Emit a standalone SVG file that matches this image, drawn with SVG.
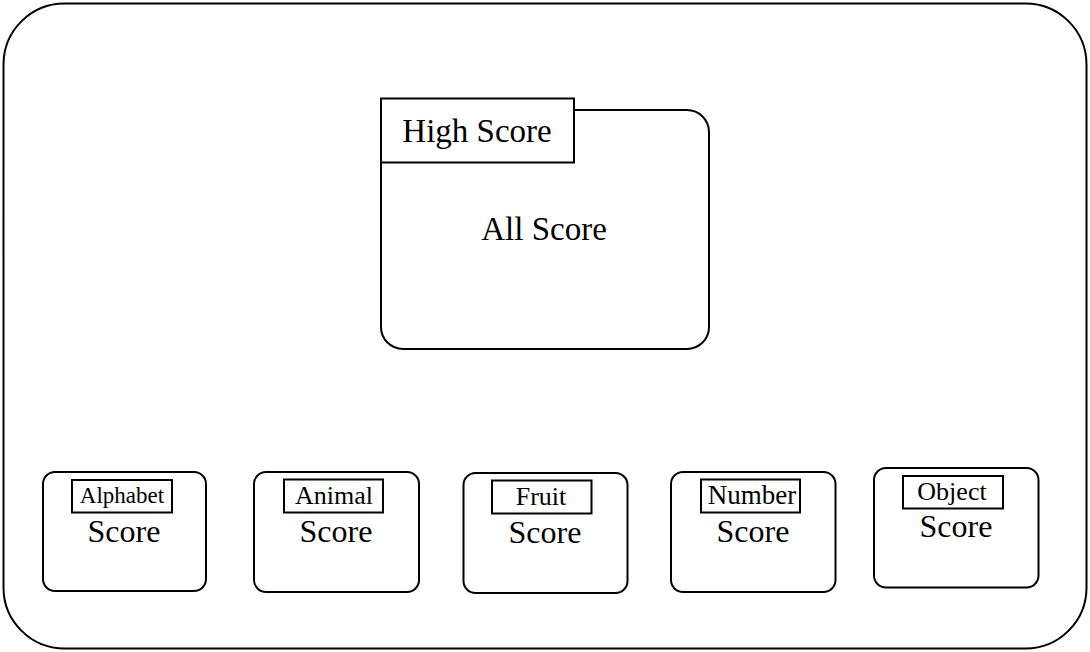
<svg xmlns="http://www.w3.org/2000/svg" width="1090" height="652" viewBox="0 0 1090 652">
<style>
.box{fill:#fff;stroke:#000;stroke-width:2}
.tab{fill:#fff;stroke:#000;stroke-width:2}
text{font-family:"Liberation Serif","Times New Roman",serif;fill:#000;text-anchor:middle}
.big{font-size:33px}
.score{font-size:32px}
.lbl{font-size:26px}
</style>
<rect x="0" y="0" width="1090" height="652" fill="#fff"/>
<g id="frame"><rect x="3.5" y="3.5" width="1083" height="645" rx="61" ry="61" class="box"/></g>
<g id="high-score">
<rect x="381" y="110" width="328" height="239" rx="22" ry="22" class="box"/>
<rect x="381" y="98.5" width="193" height="64" class="tab"/>
<text x="477" y="141.5" class="big">High Score</text>
<text x="544" y="240" class="big">All Score</text>
</g>
<g id="alphabet">
<rect x="43" y="472" width="163" height="119" rx="12" ry="12" class="box"/>
<rect x="72" y="480" width="100" height="32.5" class="tab"/>
<text x="122" y="503" style="font-size:23px">Alphabet</text>
<text x="124" y="541.5" class="score">Score</text>
</g>
<g id="animal">
<rect x="254" y="472" width="165" height="120" rx="12" ry="12" class="box"/>
<rect x="284" y="479.5" width="99" height="33" class="tab"/>
<text x="334" y="504" class="lbl">Animal</text>
<text x="336" y="541.5" class="score">Score</text>
</g>
<g id="fruit">
<rect x="463.5" y="473" width="164" height="120" rx="12" ry="12" class="box"/>
<rect x="492" y="480.5" width="99.5" height="33" class="tab"/>
<text x="541" y="505" class="lbl">Fruit</text>
<text x="545" y="543" class="score">Score</text>
</g>
<g id="number">
<rect x="671" y="472" width="164.5" height="120" rx="12" ry="12" class="box"/>
<rect x="701" y="479.5" width="99" height="33" class="tab"/>
<text x="752" y="504" style="font-size:27px">Number</text>
<text x="753" y="541.5" class="score">Score</text>
</g>
<g id="object">
<rect x="874" y="468" width="164.5" height="119.5" rx="12" ry="12" class="box"/>
<rect x="903" y="476" width="100" height="32.5" class="tab"/>
<text x="952" y="500" class="lbl">Object</text>
<text x="956" y="536.5" class="score">Score</text>
</g>
<g id="connectors"></g>
</svg>
